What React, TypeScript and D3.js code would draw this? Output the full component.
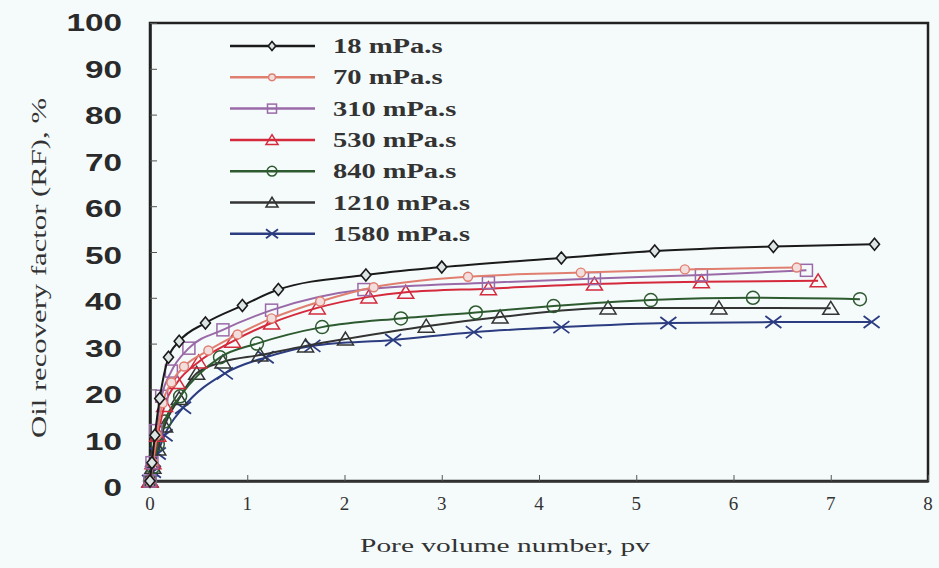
import React, { useEffect, useRef } from "react";
import * as d3 from "d3";

// each series: [pore volume, recovery factor %]
const s18 = [[0,0],[0.02,4],[0.05,10],[0.1,18],[0.19,27],[0.3,30.5],[0.57,34.5],[0.95,38.3],[1.32,41.8],[2.22,45],[3.0,46.7],[4.23,48.7],[5.19,50.2],[6.41,51.2],[7.45,51.7]];
const s70 = [[0,0],[0.03,4],[0.07,10],[0.13,17],[0.22,21.5],[0.35,25],[0.6,28.5],[0.9,32],[1.25,35.5],[1.75,39.2],[2.3,42.3],[3.27,44.6],[4.43,45.5],[5.5,46.2],[6.65,46.6]];
const s310 = [[0,0],[0.02,4],[0.06,11],[0.12,18.5],[0.22,24],[0.4,29],[0.75,33],[1.25,37.3],[2.2,41.8],[3.48,43.3],[4.57,44.2],[5.67,45],[6.75,46]];
const s530 = [[0,0],[0.03,4],[0.08,10],[0.15,16.5],[0.28,21.5],[0.5,26],[0.85,30.5],[1.25,34.5],[1.72,37.8],[2.25,40.2],[2.63,41.2],[3.48,42],[4.57,43],[5.67,43.5],[6.87,43.7]];
const s840 = [[0,0],[0.03,3],[0.08,8],[0.15,13],[0.31,18.5],[0.72,27],[1.1,30],[1.77,33.6],[2.58,35.5],[3.35,36.8],[4.15,38.2],[5.15,39.5],[6.2,40],[7.3,39.7]];
const s1210 = [[0,0],[0.03,3],[0.08,7],[0.15,12],[0.3,18],[0.48,23.5],[0.75,26],[1.13,27.5],[1.6,29.5],[2.01,31],[2.84,33.8],[3.6,35.8],[4.71,37.8],[5.85,37.8],[7.0,37.7]];
const s1580 = [[0,0],[0.03,2],[0.08,6],[0.15,10],[0.34,16],[0.77,23.5],[1.19,27],[1.67,29.5],[2.5,30.8],[3.33,32.5],[4.23,33.6],[5.33,34.5],[6.41,34.7],[7.42,34.7]];

const seriesNames = ["18 mPa.s", "70 mPa.s", "310 mPa.s", "530 mPa.s", "840 mPa.s", "1210 mPa.s", "1580 mPa.s"];
const seriesData = [s18, s70, s310, s530, s840, s1210, s1580];
const seriesColors = ["#1a1a1a", "#e07e70", "#9a6aa8", "#d42a3c", "#2e5a30", "#333333", "#2c3c80"];
const seriesMarkers = ["diamond", "circleSmall", "square", "triangle", "circle", "triangle", "cross"];

const xTicks = [0, 1, 2, 3, 4, 5, 6, 7, 8];
const yTicks = [0, 10, 20, 30, 40, 50, 60, 70, 80, 90, 100];

const W = 939;
const H = 568;

export default function App() {
  const ref = useRef<SVGSVGElement>(null);

  useEffect(() => {
    const svg = d3.select(ref.current);
    svg.selectAll("*").remove();

    const x = d3.scaleLinear().domain([0, 8]).range([150, 928]);
    const y = d3.scaleLinear().domain([0, 100]).range([481, 23]);

    svg.append("rect").attr("width", W).attr("height", H).attr("fill", "#f5fbfb");

    // frame
    svg
      .append("rect")
      .attr("x", x(0))
      .attr("y", y(100))
      .attr("width", x(8) - x(0))
      .attr("height", y(0) - y(100))
      .attr("fill", "none")
      .attr("stroke", "#222")
      .attr("stroke-width", 2.5);

    // inner ticks
    const xAxis = d3.axisBottom(x).tickValues(xTicks).tickSizeInner(-6).tickSizeOuter(0).tickFormat(() => "");
    const gx = svg.append("g").attr("transform", `translate(0,${y(0)})`).call(xAxis);
    gx.select(".domain").attr("stroke", "#333").attr("stroke-width", 2.5);
    gx.selectAll(".tick line").attr("stroke", "#555");

    const yAxis = d3.axisLeft(y).tickValues(yTicks).tickSizeInner(-7).tickSizeOuter(0).tickFormat(() => "");
    const gy = svg.append("g").attr("transform", `translate(${x(0)},0)`).call(yAxis);
    gy.select(".domain").attr("stroke", "#222").attr("stroke-width", 2.5);
    gy.selectAll(".tick line").attr("stroke", "#555");

    // tick labels
    svg
      .append("g")
      .selectAll("text")
      .data(xTicks)
      .join("text")
      .attr("x", (d) => x(d))
      .attr("y", 510)
      .attr("text-anchor", "middle")
      .style("font-family", "'Liberation Serif', serif")
      .style("font-size", "19px")
      .attr("fill", "#333")
      .text((d) => d);

    svg
      .append("g")
      .selectAll("text")
      .data(yTicks)
      .join("text")
      .attr("x", 122)
      .attr("y", (d) => 488 - d * 4.65 + 8)
      .attr("text-anchor", "end")
      .attr("textLength", (d) => String(d).length * 18.5)
      .attr("lengthAdjust", "spacingAndGlyphs")
      .style("font-family", "'Liberation Sans', Arial, sans-serif")
      .style("font-weight", "bold")
      .style("font-size", "24px")
      .attr("fill", "#2a2a2a")
      .text((d) => d);

    // axis titles
    svg
      .append("text")
      .attr("transform", `translate(46,268) rotate(-90)`)
      .attr("text-anchor", "middle")
      .attr("textLength", 340)
      .attr("lengthAdjust", "spacingAndGlyphs")
      .style("font-family", "'Liberation Serif', serif")
      .style("font-size", "22px")
      .attr("fill", "#333")
      .text("Oil recovery factor (RF), %");

    svg
      .append("text")
      .attr("x", 505)
      .attr("y", 552)
      .attr("text-anchor", "middle")
      .attr("textLength", 290)
      .attr("lengthAdjust", "spacingAndGlyphs")
      .style("font-family", "'Liberation Serif', serif")
      .style("font-size", "18px")
      .attr("fill", "#333")
      .text("Pore volume number, pv");

    const drawMarker = (g: any, type: string, cx: number, cy: number, color: string, k = 1) => {
      if (type === "diamond") {
        g.append("path")
          .attr("d", `M${cx},${cy - 6 * k}L${cx + 5 * k},${cy}L${cx},${cy + 6 * k}L${cx - 5 * k},${cy}Z`)
          .attr("fill", "#dde4e4").attr("stroke", color).attr("stroke-width", 1.6);
      } else if (type === "circleSmall") {
        g.append("circle").attr("cx", cx).attr("cy", cy).attr("r", 4.5 * k)
          .attr("fill", "#f3dede").attr("stroke", color).attr("stroke-width", 1.4);
      } else if (type === "circle") {
        g.append("circle").attr("cx", cx).attr("cy", cy).attr("r", 6.5 * k)
          .attr("fill", "none").attr("stroke", color).attr("stroke-width", 1.5);
      } else if (type === "square") {
        g.append("rect").attr("x", cx - 6 * k).attr("y", cy - 6 * k).attr("width", 12 * k).attr("height", 12 * k)
          .attr("fill", "none").attr("stroke", color).attr("stroke-width", 1.5);
      } else if (type === "triangle") {
        g.append("path")
          .attr("d", `M${cx},${cy - 7 * k}L${cx + 8 * k},${cy + 6 * k}L${cx - 8 * k},${cy + 6 * k}Z`)
          .attr("fill", "none").attr("stroke", color).attr("stroke-width", 1.5);
      } else if (type === "cross") {
        g.append("path")
          .attr("d", `M${cx - 8 * k},${cy - 6 * k}L${cx + 8 * k},${cy + 6 * k}M${cx - 8 * k},${cy + 6 * k}L${cx + 8 * k},${cy - 6 * k}`)
          .attr("fill", "none").attr("stroke", color).attr("stroke-width", 1.8);
      }
    };

    const line = d3
      .line<number[]>()
      .x((d) => x(d[0]))
      .y((d) => y(d[1]))
      .curve(d3.curveMonotoneX);

    // draw from bottom to top series
    const order = [6, 5, 4, 3, 2, 1, 0];
    order.forEach((i) => {
      const g = svg.append("g");
      g.append("path")
        .attr("d", line(seriesData[i] as number[][]))
        .attr("fill", "none")
        .attr("stroke", seriesColors[i])
        .attr("stroke-width", 2);
      seriesData[i].forEach((p) => drawMarker(g, seriesMarkers[i], x(p[0]), y(p[1]), seriesColors[i]));
    });

    // legend
    const lg = svg.append("g");
    seriesNames.forEach((name, i) => {
      const ly = 46 + i * 31.3;
      lg.append("line")
        .attr("x1", 230).attr("x2", 315).attr("y1", ly).attr("y2", ly)
        .attr("stroke", seriesColors[i]).attr("stroke-width", 2.5);
      drawMarker(lg, seriesMarkers[i], 272, ly, seriesColors[i], 0.75);
      lg.append("text")
        .attr("x", 333)
        .attr("y", ly + 7)
        .attr("textLength", name.length * 13.7)
        .attr("lengthAdjust", "spacingAndGlyphs")
        .style("font-family", "'Liberation Serif', serif")
        .style("font-weight", "bold")
        .style("font-size", "20px")
        .attr("fill", "#333")
        .text(name);
    });
  }, []);

  return (
    <div style={{ position: "absolute", left: 0, top: 0 }}>
      <svg ref={ref} width={W} height={H} />
    </div>
  );
}
